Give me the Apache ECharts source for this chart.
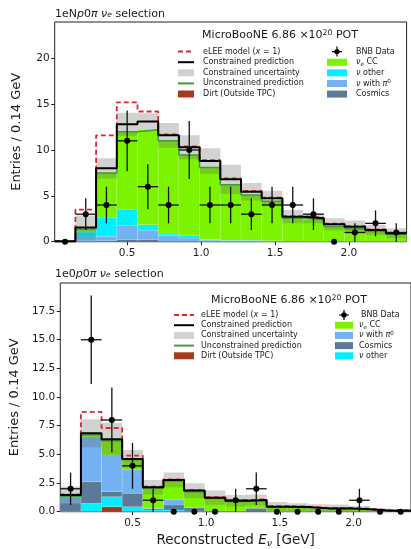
<!DOCTYPE html>
<html><head><meta charset="utf-8">
<script src="https://cdn.jsdelivr.net/npm/echarts@6/dist/echarts.min.js"></script>
<style>html,body{margin:0;padding:0;background:#fff}#c{width:411px;height:549px}</style>
</head><body><div id="c"></div>
<script>
// ---------------- data ----------------
const binEdges = [0.01,0.15,0.29,0.43,0.57,0.71,0.85,0.99,1.13,1.27,1.41,1.55,1.69,1.83,1.97,2.11,2.25,2.39];
const xTickValues = [0.5, 1.0, 1.5, 2.0];
const npYTicks = [0, 5, 10, 15, 20];
const zpYTicks = [0, 2.5, 5, 7.5, 10, 12.5, 15, 17.5];

// 1eNp0pi panel
const npCosmics = [0,0.05,0.1,0.25,0.25,0.05,0.05,0,0,0,0,0,0,0,0,0,0];
const npPi0     = [0,0.45,0.5,1.5,1.0,0.6,0.35,0.15,0.1,0.1,0.05,0.05,0.03,0,0,0,0];
const npOther   = [0,0.55,2.06,1.8,0.6,0.2,0.3,0.1,0.05,0.05,0.05,0,0,0,0,0,0];
const npDirt    = [0,0,0,0,0,0,0,0,0,0,0,0,0,0,0,0,0];
const npNueCC   = [0,0.33,4.84,8.45,10.35,10.15,8.75,7.85,6.05,4.95,4.3,2.5,2.37,1.65,1.4,1.1,0.8];
const npUnconstrained = [0,1.38,7.5,12.0,12.2,11.0,9.45,8.1,6.2,5.1,4.4,2.55,2.4,1.65,1.4,1.1,0.8];
const npConstrained   = [0.05,1.55,8.0,12.8,13.1,11.6,10.3,8.8,6.8,5.45,4.73,2.73,2.55,1.9,1.64,1.28,0.92];
const npUncert        = [0.1,1.3,1.1,1.25,0.9,1.35,1.3,1.4,1.6,0.95,0.83,0.73,0.55,0.65,0.66,0.54,0.54];
const npELEE          = [0.05,3.5,11.6,15.2,14.2,11.7,10.4,8.9,6.9,5.55,4.8,2.8,2.62,1.96,1.7,1.34,0.98];
const npData    = [0,3,4,11,6,4,10,4,4,3,4,4,3,0,1,2,1];
const npDataErr = [0,1.73,2,3.32,2.45,2,3.16,2,2,1.73,2,2,1.73,0,1,1.41,1];

// 1e0p0pi panel
const zpDirt    = [0,0,0.44,0,0,0,0,0,0,0,0,0,0,0,0,0,0];
const zpOther   = [0.05,0.73,0.87,0.44,0.15,0.15,0.05,0,0,0,0,0,0,0,0,0,0];
const zpCosmics = [0.7,1.89,0.44,1.16,0.1,0.44,0.3,0.05,0.05,0.3,0.02,0,0,0,0,0,0];
const zpPi0     = [0.55,3.9,3.2,2.04,0.05,0.49,0.05,0,0,0,0,0,0,0,0,0,0];
const zpNueCC   = [0.05,0.2,1.25,0.9,1.75,1.6,1.35,1.1,0.85,0.7,0.4,0.37,0.27,0.27,0.2,0.07,0.07];
const zpUnconstrained = [1.35,6.72,6.2,4.54,2.05,2.68,1.75,1.15,0.9,1.0,0.42,0.37,0.27,0.27,0.2,0.07,0.07];
const zpConstrained   = [1.45,6.85,6.33,4.6,2.13,2.77,1.84,1.22,0.96,1.02,0.44,0.4,0.29,0.29,0.22,0.08,0.08];
const zpUncert        = [0.74,1.22,1.4,0.79,0.64,0.64,0.64,0.62,0.5,0.48,0.4,0.34,0.37,0.34,0.28,0.2,0.15];
const zpELEE          = [1.5,8.7,7.3,4.9,2.18,2.82,1.89,1.27,1.01,1.07,0.49,0.45,0.34,0.34,0.27,0.13,0.13];
const zpData    = [2,15,8,4,1,0,0,0,1,2,0,0,0,0,1,0,0];
const zpDataErr = [1.41,3.87,2.83,2,1,0,0,0,1,1.41,0,0,0,0,1,0,0];

// ---------------- styling ----------------
const FONT = 'DejaVu Sans';
const TXT = '#1a1a1a';
const C = {
  nue: '#7cf400', other: '#00f0ff', pi0: '#72b2f2', cosmics: '#5b7a98', dirt: '#a63a1e',
  band: 'rgba(100,110,100,0.3)', constrained: '#000000', unconstrained: '#3d9a3d', elee: '#e0262e'
};
const N = {
  elee: 'eLEE model (x = 1)', cons: 'Constrained prediction', unc: 'Constrained uncertainty',
  uncons: 'Unconstrained prediction', dirt: 'Dirt (Outside TPC)', data: 'BNB Data',
  nue: 'νe CC', other: 'ν other', pi0: 'ν with π0', cosmics: 'Cosmics'
};
function rich(fs) {
  return {
    n: {fontSize: fs, fontFamily: FONT, color: TXT},
    i: {fontSize: fs, fontFamily: FONT, color: TXT, fontStyle: 'italic'},
    sub: {fontSize: fs * 0.7, fontFamily: FONT, color: TXT, fontStyle: 'italic', verticalAlign: 'bottom', lineHeight: fs * 0.75},
    sup: {fontSize: fs * 0.7, fontFamily: FONT, color: TXT, verticalAlign: 'top', lineHeight: fs * 0.75}
  };
}
const legendLabel = {};
legendLabel[N.elee] = '{n|eLEE model (}{i|x}{n| = 1)}';
legendLabel[N.nue] = '{i|ν}{sub|e}{n| CC}';
legendLabel[N.other] = '{i|ν}{n| other}';
legendLabel[N.pi0] = '{i|ν}{n| with }{i|π}{sup|0}';
function legendFmt(name) { return legendLabel[name] || ('{n|' + name + '}'); }

// ---------------- series builders ----------------
function rectRender(color) {
  return function (params, api) {
    const lo = api.value(2), hi = api.value(3);
    if (hi - lo <= 0) return null;
    const p0 = api.coord([api.value(0), lo]);
    const p1 = api.coord([api.value(1), hi]);
    return {type: 'rect', shape: {x: p0[0], y: p1[1], width: p1[0] - p0[0], height: p0[1] - p1[1]},
      style: {fill: color, stroke: 'rgba(255,255,255,0.25)', lineWidth: 0.5}};
  };
}
function stackSeries(ax, comps) {
  const base = binEdges.slice(1).map(() => 0);
  return comps.map(c => {
    const data = c.values.map((v, i) => {
      const d = [binEdges[i], binEdges[i + 1], base[i], base[i] + v];
      base[i] += v; return d;
    });
    return {type: 'custom', name: c.name, xAxisIndex: ax, yAxisIndex: ax, z: 1, clip: true,
      itemStyle: {color: c.color}, encode: {x: [0, 1], y: [2, 3]}, data: data, renderItem: rectRender(c.color)};
  });
}
function bandSeries(ax, cons, err) {
  const data = cons.map((v, i) => [binEdges[i], binEdges[i + 1], v - err[i], v + err[i]]);
  return {type: 'custom', name: N.unc, xAxisIndex: ax, yAxisIndex: ax, z: 2, clip: true,
    itemStyle: {color: C.band}, encode: {x: [0, 1], y: [2, 3]}, data: data,
    renderItem: function (params, api) {
      const p0 = api.coord([api.value(0), api.value(2)]);
      const p1 = api.coord([api.value(1), api.value(3)]);
      return {type: 'rect', shape: {x: p0[0], y: p1[1], width: p1[0] - p0[0], height: p0[1] - p1[1]},
        style: {fill: C.band}};
    }};
}
function stepData(vals) {
  const d = vals.map((v, i) => [binEdges[i], v]);
  d.push([binEdges[binEdges.length - 1], vals[vals.length - 1]]);
  return d;
}
function stepSeries(ax, name, vals, color, width, type, z) {
  return {type: 'line', name: name, xAxisIndex: ax, yAxisIndex: ax, step: 'end', symbol: 'none', z: z,
    data: stepData(vals), lineStyle: {color: color, width: width, type: type}, itemStyle: {color: color},
    clip: true, animation: false};
}
function dataSeries(ax, vals, errs) {
  const data = vals.map((v, i) => [(binEdges[i] + binEdges[i + 1]) / 2, v, errs[i], (binEdges[i + 1] - binEdges[i]) / 2]);
  return {type: 'custom', name: N.data, xAxisIndex: ax, yAxisIndex: ax, z: 6, clip: false,
    itemStyle: {color: '#000'}, encode: {x: 0, y: 1}, data: data,
    renderItem: function (params, api) {
      const x = api.value(0), y = api.value(1), e = api.value(2), hw = api.value(3);
      const c = api.coord([x, y]);
      const kids = [];
      if (e > 0) {
        const a = api.coord([x, y - e]), b = api.coord([x, y + e]);
        const l = api.coord([x - hw, y]), r = api.coord([x + hw, y]);
        kids.push({type: 'line', shape: {x1: a[0], y1: a[1], x2: b[0], y2: b[1]}, style: {stroke: '#111', lineWidth: 1.3}});
        kids.push({type: 'line', shape: {x1: l[0], y1: l[1], x2: r[0], y2: r[1]}, style: {stroke: '#111', lineWidth: 1.3}});
      }
      kids.push({type: 'circle', shape: {cx: c[0], cy: c[1], r: 3}, style: {fill: '#000'}});
      return {type: 'group', children: kids};
    }};
}

// ---------------- axes ----------------
function xAxisCfg(grid, withName) {
  const cfg = {type: 'value', gridIndex: grid, min: binEdges[0], max: binEdges[binEdges.length - 1],
    axisLine: {show: false}, splitLine: {show: false},
    axisTick: {show: true, customValues: xTickValues, length: 3.5, lineStyle: {color: '#222', width: 1}},
    axisLabel: {customValues: xTickValues, formatter: v => v.toFixed(1), fontFamily: FONT, fontSize: 10.5, color: TXT, margin: 6}};
  if (withName) {
    cfg.name = '{n|Reconstructed }{i|E}{sub|ν}{n| [GeV]}';
    cfg.nameLocation = 'middle';
    cfg.nameGap = 22;
    cfg.nameTextStyle = {rich: rich(13.5)};
  }
  return cfg;
}
function yAxisCfg(grid, max, ticks, dec, gap) {
  return {type: 'value', gridIndex: grid, min: 0, max: max,
    axisLine: {show: false}, splitLine: {show: false},
    axisTick: {show: true, customValues: ticks, length: 3.5, lineStyle: {color: '#222', width: 1}},
    axisLabel: {customValues: ticks, formatter: v => v.toFixed(dec), fontFamily: FONT, fontSize: 10.5, color: TXT, margin: 5},
    name: 'Entries / 0.14 GeV', nameLocation: 'middle', nameRotate: 90, nameGap: gap,
    nameTextStyle: {fontFamily: FONT, fontSize: 13, color: TXT}};
}

// ---------------- legends ----------------
function legendCfg(left, top, items, iw, ih, pad, gap) {
  return {left: left, top: top, orient: 'vertical', padding: 0, itemGap: gap, itemWidth: iw, itemHeight: ih,
    selectedMode: false, data: items, formatter: legendFmt,
    textStyle: {fontFamily: FONT, fontSize: 8, color: TXT, lineHeight: 10, padding: [0, 0, 0, pad], rich: rich(8)}};
}
const dataIcon = 'path://M4.4,0H5.6V10H4.4Z M0,4.4H10V5.6H0Z M5,2.3A2.7,2.7 0 1,1 4.99,2.3Z';
const hideSym = {color: 'rgba(0,0,0,0)', borderColor: 'rgba(0,0,0,0)', borderWidth: 0, opacity: 0};
const lineItems = [
  {name: N.elee, itemStyle: hideSym}, {name: N.cons, itemStyle: hideSym}, {name: N.unc, icon: 'rect'},
  {name: N.uncons, itemStyle: hideSym}, {name: N.dirt, icon: 'rect'}
];

// ---------------- header texts ----------------
function headerText(x, y, txt, fs, align) {
  return {type: 'text', x: x, y: y, z: 100,
    style: {text: txt, rich: rich(fs), font: fs + 'px "' + FONT + '"', fill: TXT, align: align, verticalAlign: 'middle'}};
}

const option = {
  animation: false,
  backgroundColor: '#ffffff',
  grid: [
    {left: 54.7, top: 22, width: 351.9, height: 219.7, show: true, borderColor: '#222', borderWidth: 1, backgroundColor: 'transparent'},
    {left: 56.7, top: 283, width: 358.9, height: 228.7, show: true, borderColor: '#222', borderWidth: 1, backgroundColor: 'transparent'}
  ],
  xAxis: [xAxisCfg(0, false), xAxisCfg(1, true)],
  yAxis: [yAxisCfg(0, 23.96, npYTicks, 0, 32), yAxisCfg(1, 19.95, zpYTicks, 1, 34)],
  legend: [
    legendCfg(177, 46.6, lineItems, 16, 7, 4, 0.6),
    legendCfg(332, 46.6, [{name: N.data, icon: dataIcon}], 10, 10, 9, 0),
    legendCfg(327, 57.3, [{name: N.nue, icon: 'rect'}, {name: N.other, icon: 'rect'}, {name: N.pi0, icon: 'rect'}, {name: N.cosmics, icon: 'rect'}], 20, 7, 4, 0.6),
    legendCfg(173, 310, lineItems, 20, 7, 2, 0.2),
    legendCfg(339, 310, [{name: N.data, icon: dataIcon}], 10, 10, 7, 0),
    legendCfg(335, 320.2, [{name: N.nue, icon: 'rect'}, {name: N.pi0, icon: 'rect'}, {name: N.cosmics, icon: 'rect'}, {name: N.other, icon: 'rect'}], 18, 7, 1, 0.2)
  ],
  graphic: [
    headerText(55, 14, '{n|1eN}{i|p}{n|0}{i|π ν}{sub|e}{n| selection}', 11, 'left'),
    headerText(55, 274, '{n|1e0}{i|p}{n|0}{i|π ν}{sub|e}{n| selection}', 11, 'left'),
    headerText(280, 35, '{n|MicroBooNE 6.86 ×10}{sup|20}{n| POT}', 11, 'center'),
    headerText(289, 300, '{n|MicroBooNE 6.86 ×10}{sup|20}{n| POT}', 11, 'center')
  ],
  series: [].concat(
    stackSeries(0, [
      {name: N.dirt, color: C.dirt, values: npDirt},
      {name: N.cosmics, color: C.cosmics, values: npCosmics},
      {name: N.pi0, color: C.pi0, values: npPi0},
      {name: N.other, color: C.other, values: npOther},
      {name: N.nue, color: C.nue, values: npNueCC}
    ]),
    [bandSeries(0, npConstrained, npUncert),
     stepSeries(0, N.uncons, npUnconstrained, C.unconstrained, 1.5, 'solid', 3),
     stepSeries(0, N.elee, npELEE, C.elee, 1.8, [5, 3], 4),
     stepSeries(0, N.cons, npConstrained, C.constrained, 2, 'solid', 5),
     dataSeries(0, npData, npDataErr)],
    stackSeries(1, [
      {name: N.dirt, color: C.dirt, values: zpDirt},
      {name: N.other, color: C.other, values: zpOther},
      {name: N.cosmics, color: C.cosmics, values: zpCosmics},
      {name: N.pi0, color: C.pi0, values: zpPi0},
      {name: N.nue, color: C.nue, values: zpNueCC}
    ]),
    [bandSeries(1, zpConstrained, zpUncert),
     stepSeries(1, N.uncons, zpUnconstrained, C.unconstrained, 1.5, 'solid', 3),
     stepSeries(1, N.elee, zpELEE, C.elee, 1.8, [5, 3], 4),
     stepSeries(1, N.cons, zpConstrained, C.constrained, 2, 'solid', 5),
     dataSeries(1, zpData, zpDataErr)]
  )
};
const chart = echarts.init(document.getElementById('c'), null, {renderer: 'canvas', width: 411, height: 549});
chart.setOption(option);
</script>
</body></html>
